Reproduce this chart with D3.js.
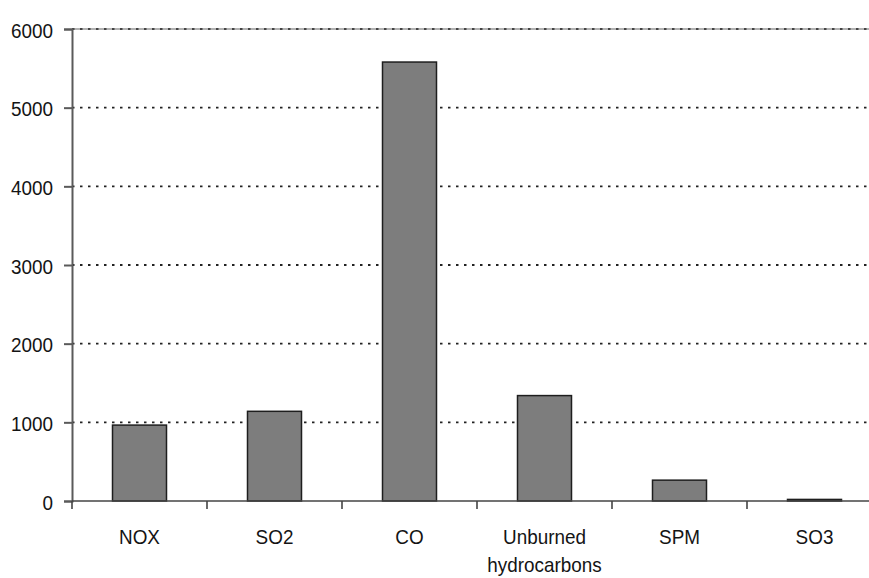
<!DOCTYPE html>
<html>
<head>
<meta charset="utf-8">
<script src="https://cdn.jsdelivr.net/npm/d3@7"></script>
<style>
  html, body { margin: 0; padding: 0; background: #fff; }
  svg { display: block; }
  text { font-family: "Liberation Sans", Arial, sans-serif; fill: #141414; }
</style>
</head>
<body>
<svg id="chart" width="869" height="578"></svg>
<script>
// Emissions by pollutant
const categories = ["NOX", "SO2", "CO", "Unburned\nhydrocarbons", "SPM", "SO3"];
const values = [965, 1140, 5580, 1340, 265, 20];
const yTicks = [0, 1000, 2000, 3000, 4000, 5000, 6000];

const svg = d3.select("#chart");
const plotLeft = 72, plotRight = 882, plotTop = 29, plotBottom = 501;
const fontSize = 21, squeeze = 0.9;

const x = d3.scaleBand().domain(categories).range([plotLeft, plotRight]).paddingInner(0.6).paddingOuter(0.3);
const y = d3.scaleLinear().domain([0, 6000]).range([plotBottom, plotTop]);

// Dotted gridlines
svg.append("g").selectAll("line")
  .data(yTicks.filter(d => d > 0))
  .join("line")
  .attr("x1", plotLeft).attr("x2", 869)
  .attr("y1", d => y(d)).attr("y2", d => y(d))
  .attr("stroke", "#222").attr("stroke-width", 1.8)
  .attr("stroke-dasharray", "2.5,5.5");

// Top border of plot area
svg.append("line")
  .attr("x1", plotLeft).attr("x2", 869).attr("y1", y(6000)).attr("y2", y(6000))
  .attr("stroke", "#666").attr("stroke-width", 1.2);

// Bars
svg.append("g").selectAll("rect")
  .data(categories.map((c, i) => ({ c, v: values[i] })))
  .join("rect")
  .attr("x", d => x(d.c))
  .attr("width", x.bandwidth())
  .attr("y", d => y(d.v))
  .attr("height", d => y(0) - y(d.v))
  .attr("fill", "#7d7d7d")
  .attr("stroke", "#1e1e1e")
  .attr("stroke-width", 1.5);

// Y axis
const yAxis = svg.append("g").attr("transform", `translate(${plotLeft},0)`)
  .call(d3.axisLeft(y).tickValues(yTicks).tickSize(8).tickFormat(d3.format("d")));
yAxis.select(".domain").attr("stroke", "#5a5a5a").attr("stroke-width", 2);
yAxis.selectAll(".tick line").attr("stroke", "#5a5a5a").attr("stroke-width", 2);
yAxis.selectAll(".tick text").remove();
yAxis.selectAll(".tick").append("text")
  .attr("text-anchor", "end")
  .attr("font-size", fontSize)
  .attr("transform", `translate(-19,8) scale(${squeeze},1)`)
  .text(d => d3.format("d")(d));

// X axis
const step = x.step();
const boundaries = d3.range(1, categories.length).map(i => plotLeft + i * step);
svg.append("line")
  .attr("x1", plotLeft).attr("x2", 869).attr("y1", plotBottom).attr("y2", plotBottom)
  .attr("stroke", "#444").attr("stroke-width", 1.6);
svg.append("g").selectAll("line")
  .data([plotLeft].concat(boundaries))
  .join("line")
  .attr("x1", d => d).attr("x2", d => d)
  .attr("y1", plotBottom).attr("y2", plotBottom + 8)
  .attr("stroke", "#444").attr("stroke-width", 1.6);

// Category labels
const labels = svg.append("g").selectAll("text")
  .data(categories)
  .join("text")
  .attr("text-anchor", "middle")
  .attr("font-size", fontSize)
  .attr("transform", d => `translate(${x(d) + x.bandwidth() / 2},544) scale(${squeeze},1)`);
labels.each(function(d) {
  const lines = d.split("\n");
  d3.select(this).selectAll("tspan")
    .data(lines)
    .join("tspan")
    .attr("x", 0)
    .attr("dy", (l, i) => i === 0 ? 0 : 28)
    .text(l => l);
});
</script>
</body>
</html>
